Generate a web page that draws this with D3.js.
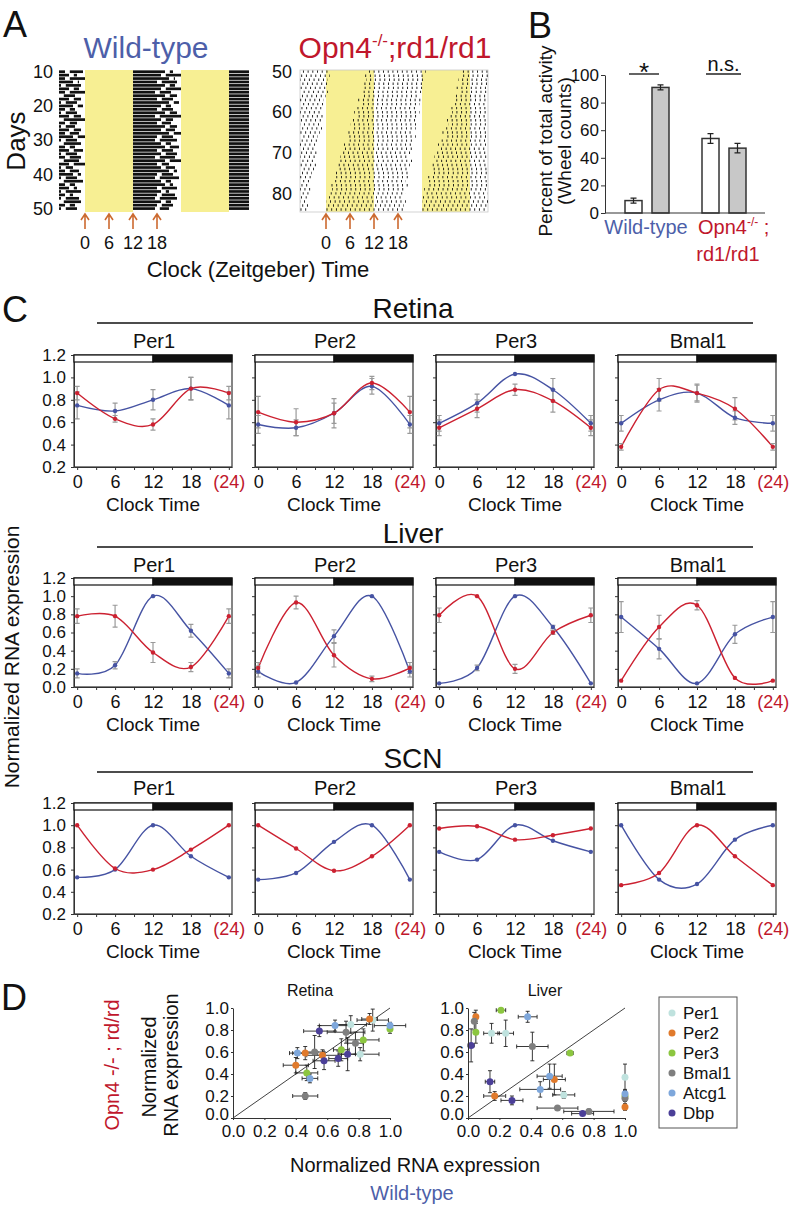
<!DOCTYPE html>
<html><head><meta charset="utf-8">
<script src="https://cdn.jsdelivr.net/npm/d3@7"></script>
<style>
html,body{margin:0;padding:0;background:#fff;}
svg{display:block;}
</style></head>
<body>
<svg id="fig" width="793" height="1209"></svg>
<script>
// ================= DATA =================
// Panel A – actograms (ZT hours)
const wtDays = d3.range(9, 52);
const wtActivityEnd = [19,20,19,21,18,20,19,17.5,20,18,21,19,18,20,17.5,19,18,20,19,21,18,17.5,19,20,18,19,17.5,20,18,19,21,18,17.5,19,20,18,19,18,17.5,19,18,17.5,18];
const wtLateBoutEnd = [23.5,22,24,22.5,23,22.5,24,21.5,23,22,23.5,21.5,22,23,24,22,21.5,23,22.5,24,22,23,21.5,23.5,22,23,22.5,24,21,22.5,23,22,23.5,21.5,22,23,21,22.5,23,21.5,22,21,22.5];
const koDays = d3.range(49, 86);
const koOnset = [10.5,10,9.5,10,9,9.5,8.5,9,8,8.5,7.5,7,7.5,6.5,6,6.5,5.5,5,5.5,4.5,4,4,3.5,3,3,2.5,2,2.5,1.5,1,1.5,0.5,0.5,0,0,0,0];
const koOffset = [25,25,24.5,25,24,24.5,24,23.5,24,23.5,23,23.5,23,22.5,23,22.5,22,22.5,22,21.5,22,21.5,21,21.5,21,20.5,21,20.5,20,20.5,20,20,19.5,20,19.5,20,19.5];
const arrowTimes = [0, 6, 12, 18];
const wtDayTicks = [10, 20, 30, 40, 50];
const koDayTicks = [50, 60, 70, 80];

// Panel B – percent of total activity
const genotypes = ["Wild-type", "Opn4"];
const phases = ["light", "dark"];
const lightPercent = [9, 54];
const darkPercent = [91, 47];
const lightPercentErr = [1.8, 3.5];
const darkPercentErr = [1.8, 3.5];
const significance = ["*", "n.s."];
const percentTicks = [0, 20, 40, 60, 80, 100];

// Panel C – normalized RNA expression at ZT 0,6,12,18,(24)
const clockTimes = [0, 6, 12, 18, 24];
const tissues = ["Retina", "Liver", "SCN"];
const genes = ["Per1", "Per2", "Per3", "Bmal1"];
const retinaWT = [[0.75,0.70,0.80,0.90,0.75],[0.58,0.55,0.68,0.92,0.58],[0.59,0.77,1.03,0.89,0.59],[0.59,0.80,0.86,0.64,0.59]];
const retinaKO = [[0.86,0.63,0.58,0.90,0.86],[0.69,0.60,0.68,0.95,0.69],[0.55,0.72,0.89,0.79,0.55],[0.38,0.89,0.86,0.72,0.38]];
const retinaWTerr = [[0.12,0.07,0.09,0.10,0.12],[0.08,0.07,0.09,0.07,0.08],[0.07,0.08,0.00,0.10,0.07],[0.07,0.10,0.08,0.06,0.07]];
const retinaKOerr = [[0.06,0.03,0.05,0.10,0.06],[0.14,0.12,0.13,0.06,0.14],[0.07,0.08,0.05,0.10,0.07],[0.03,0.10,0.07,0.10,0.03]];
const liverWT = [[0.15,0.24,1.00,0.62,0.15],[0.17,0.05,0.56,1.00,0.17],[0.04,0.21,1.00,0.66,0.04],[0.77,0.42,0.04,0.58,0.77]];
const liverKO = [[0.78,0.78,0.38,0.22,0.78],[0.21,0.93,0.35,0.09,0.21],[0.79,1.00,0.20,0.60,0.79],[0.07,0.66,0.90,0.10,0.07]];
const liverWTerr = [[0.05,0.04,0.00,0.07,0.05],[0.06,0.00,0.07,0.00,0.06],[0.00,0.03,0.00,0.02,0.00],[0.17,0.11,0.00,0.10,0.17]];
const liverKOerr = [[0.08,0.12,0.11,0.05,0.08],[0.06,0.07,0.13,0.03,0.06],[0.08,0.00,0.05,0.02,0.08],[0.00,0.13,0.05,0.00,0.00]];
const scnWT = [[0.53,0.60,1.00,0.72,0.53],[0.51,0.57,0.85,1.00,0.51],[0.76,0.69,1.00,0.86,0.76],[1.00,0.51,0.47,0.87,1.00]];
const scnKO = [[1.00,0.61,0.60,0.78,1.00],[1.00,0.79,0.59,0.72,1.00],[0.97,0.99,0.87,0.91,0.97],[0.46,0.57,1.00,0.72,0.46]];

// Panel D – wild-type (x) vs Opn4-/-;rd/rd (y)
const legendGenes = ["Per1", "Per2", "Per3", "Bmal1", "Atcg1", "Dbp"];
const unitTicks = [0, 0.2, 0.4, 0.6, 0.8, 1.0];
const retinaGene = [0,0,0,1,1,1,1,2,2,2,2,3,3,3,3,4,4,4,4,5,5,5,5];
const retinaWTx  = [0.75,0.89,0.81,0.87,0.46,0.57,0.40,1.00,0.83,0.69,0.47,0.46,0.52,0.72,0.78,1.00,0.65,0.41,0.49,0.55,0.58,0.67,0.73];
const retinaKOy  = [0.85,0.89,0.58,0.90,0.59,0.57,0.48,0.81,0.71,0.62,0.41,0.20,0.60,0.78,0.68,0.84,0.84,0.59,0.36,0.79,0.52,0.54,0.58];
const retinaXerr = [0.10,0.10,0.12,0.05,0.08,0.10,0.08,0.00,0.10,0.05,0.07,0.08,0.06,0.12,0.05,0.10,0.10,0.05,0.05,0.10,0.07,0.06,0.05];
const retinaYerr = [0.08,0.10,0.06,0.05,0.06,0.05,0.07,0.04,0.10,0.10,0.07,0.03,0.15,0.10,0.10,0.03,0.05,0.05,0.04,0.05,0.08,0.07,0.15];
const liverGene = [0,0,0,0,1,1,1,1,2,2,2,2,3,3,3,3,3,4,4,4,4,5,5,5,5];
const liverWTx  = [0.15,0.24,0.61,1.00,0.05,0.55,0.17,1.00,0.21,0.05,0.65,1.00,0.04,0.41,0.57,0.77,1.00,0.38,0.52,0.46,1.00,0.02,0.14,0.28,0.73];
const liverKOy  = [0.77,0.77,0.21,0.37,0.92,0.35,0.20,0.10,0.98,0.78,0.59,0.20,0.88,0.65,0.09,0.06,0.18,0.92,0.38,0.26,0.22,0.66,0.33,0.16,0.04];
const liverXerr = [0.05,0.05,0.07,0.00,0.01,0.07,0.07,0.00,0.03,0.01,0.02,0.00,0.01,0.10,0.13,0.16,0.00,0.06,0.08,0.13,0.00,0.02,0.03,0.07,0.07];
const liverYerr = [0.09,0.12,0.03,0.12,0.06,0.14,0.04,0.03,0.01,0.10,0.02,0.05,0.08,0.13,0.01,0.02,0.07,0.05,0.11,0.07,0.04,0.15,0.10,0.04,0.01];

// ================= STYLE =================
const F = '"Liberation Sans", Arial, Helvetica, sans-serif';
const BLUE = "#4d5fa9", RED = "#c0172c", LBLUE = "#4653a3", LRED = "#cc2131";
const ORANGE = "#cc6a30", YELLOW = "#f7ef93", ERRGREY = "#9a9a9a";
const geneColors = ["#bfe2de", "#e07a2c", "#8cc640", "#7f7f7f", "#7ea7db", "#4b3f98"];

const svg = d3.select("#fig");
function T(sel, x, y, s, o = {}) {
  const t = sel.append("text").attr("x", x).attr("y", y).text(s)
    .attr("font-family", F).attr("font-size", o.size || 18)
    .attr("text-anchor", o.anchor || "middle").attr("fill", o.color || "#111");
  if (o.rot) t.attr("transform", `rotate(${o.rot} ${x} ${y})`);
  return t;
}
function styleAxis(g, size, color) {
  g.selectAll("text").attr("font-family", F).attr("font-size", size).attr("fill", color || "#111");
  g.selectAll("line").attr("stroke", "#333");
  g.select(".domain").attr("stroke", "#333");
}

// ================= PANEL A =================
T(svg, 3, 37, "A", {size: 36, anchor: "start"});
T(svg, 146, 58, "Wild-type", {size: 30, color: BLUE});
{
  const t = svg.append("text").attr("x", 395).attr("y", 58).attr("text-anchor", "middle")
    .attr("font-family", F).attr("font-size", 30).attr("fill", RED);
  t.append("tspan").text("Opn4");
  t.append("tspan").attr("dy", -12).attr("font-size", 17).text("-/-");
  t.append("tspan").attr("dy", 12).text(";rd1/rd1");
}
T(svg, 25, 141, "Days", {size: 26, rot: -90});
T(svg, 258, 277, "Clock (Zeitgeber) Time", {size: 22});

// wild-type actogram
const wtX = d3.scaleLinear().domain([-6.5, 41]).range([59, 249]);
const wtY = d3.scaleLinear().domain([9.5, 51]).range([70, 212]);
const gA1 = svg.append("g");
gA1.selectAll("rect.lp").data([0, 24]).join("rect")
  .attr("x", d => wtX(d)).attr("width", d => wtX(d + 12) - wtX(d))
  .attr("y", 70).attr("height", 142).attr("fill", YELLOW);
const wtBouts = k => {
  const s = [[12, wtActivityEnd[k]]];
  if (wtLateBoutEnd[k] > wtActivityEnd[k] + 1.2) s.push([wtActivityEnd[k] + 1.2, wtLateBoutEnd[k]]);
  return s;
};
const wtSegs = [];
wtDays.forEach((d, j) => {
  if (d < 10 || d > 50) return;
  const add = (arr, sh) => arr.forEach(([a, b]) => {
    const aa = Math.max(a + sh, -6.5), bb = Math.min(b + sh, 41);
    if (bb > aa) wtSegs.push({d, a: aa, b: bb});
  });
  add(wtBouts(j), 0);
  add(wtBouts(j - 1), -24);
  add(wtBouts(j + 1), 24);
});
gA1.selectAll("rect.act").data(wtSegs).join("rect")
  .attr("x", s => wtX(s.a)).attr("width", s => wtX(s.b) - wtX(s.a))
  .attr("y", s => wtY(s.d) - 1.35).attr("height", 2.7).attr("fill", "#111");
const ax1 = gA1.append("g").attr("transform", "translate(59,0)")
  .call(d3.axisLeft(wtY).tickValues(wtDayTicks).tickSize(0).tickPadding(6));
ax1.select(".domain").remove();
styleAxis(ax1, 18);

// Opn4 actogram
const koX = d3.scaleLinear().domain([-6.5, 40.5]).range([300, 488]);
const koY = d3.scaleLinear().domain([49.6, 84.6]).range([70, 212]);
const gA2 = svg.append("g");
gA2.selectAll("rect.lp").data([0, 24]).join("rect")
  .attr("x", d => koX(d)).attr("width", d => koX(d + 12) - koX(d))
  .attr("y", 70).attr("height", 142).attr("fill", YELLOW);
gA2.append("rect").attr("x", 300).attr("y", 70).attr("width", 188).attr("height", 142)
  .attr("fill", "none").attr("stroke", "#c8c8c8").attr("stroke-width", 0.8);
const koSegs = [];
koDays.forEach((d, j) => {
  if (d < 50 || d > 84) return;
  const add = (k, sh) => {
    const aa = Math.max(koOnset[k] + sh, -6.5), bb = Math.min(koOffset[k] + sh, 40.5);
    if (bb > aa) koSegs.push({d, i: j, a: aa, b: bb});
  };
  add(j, 0); add(j - 1, -24); add(j + 1, 24);
});
gA2.selectAll("line.act").data(koSegs).join("line")
  .attr("x1", s => koX(s.a)).attr("x2", s => koX(s.b))
  .attr("y1", s => koY(s.d)).attr("y2", s => koY(s.d))
  .attr("stroke", "#111").attr("stroke-width", 2.4)
  .attr("stroke-dasharray", "0.9 3.8")
  .attr("stroke-dashoffset", s => (s.i * 1.73) % 4.7);
const ax2 = gA2.append("g").attr("transform", "translate(300,0)")
  .call(d3.axisLeft(koY).tickValues(koDayTicks).tickSize(0).tickPadding(8));
ax2.select(".domain").remove();
styleAxis(ax2, 18);

// arrows
[wtX, koX].forEach(sx => {
  const g = svg.append("g");
  arrowTimes.forEach(z => {
    const x = sx(z);
    g.append("path").attr("d", `M${x},229 L${x},214 M${x - 4},220 L${x},214 L${x + 4},220`)
      .attr("fill", "none").attr("stroke", ORANGE).attr("stroke-width", 1.6);
    T(g, x, 249, String(z), {size: 18});
  });
});

// ================= PANEL B =================
T(svg, 528, 38, "B", {size: 36, anchor: "start"});
const bY = d3.scaleLinear().domain([0, 100]).range([213, 75]);
const bX = d3.scaleBand().domain(genotypes).range([609, 763]);
const bIn = d3.scaleBand().domain(phases).range([16, 60]).paddingInner(0.37);
const gB = svg.append("g");
const barsB = [];
genotypes.forEach((g, i) => {
  barsB.push({g, p: "light", v: lightPercent[i], e: lightPercentErr[i]});
  barsB.push({g, p: "dark", v: darkPercent[i], e: darkPercentErr[i]});
});
gB.selectAll("rect.bar").data(barsB).join("rect")
  .attr("x", d => bX(d.g) + bIn(d.p)).attr("width", bIn.bandwidth())
  .attr("y", d => bY(d.v)).attr("height", d => bY(0) - bY(d.v))
  .attr("fill", d => d.p === "light" ? "#fff" : "#c8c8c8")
  .attr("stroke", "#333").attr("stroke-width", 1.5);
barsB.forEach(d => {
  const cx = bX(d.g) + bIn(d.p) + bIn.bandwidth() / 2;
  gB.append("path").attr("d",
    `M${cx},${bY(d.v + d.e)}L${cx},${bY(d.v - d.e)}M${cx - 3},${bY(d.v + d.e)}L${cx + 3},${bY(d.v + d.e)}M${cx - 3},${bY(d.v - d.e)}L${cx + 3},${bY(d.v - d.e)}`)
    .attr("stroke", "#222").attr("stroke-width", 1.2).attr("fill", "none");
});
const axB = gB.append("g").attr("transform", "translate(605,0)")
  .call(d3.axisLeft(bY).tickValues(percentTicks).tickSize(4).tickPadding(2).tickSizeOuter(0));
styleAxis(axB, 17);
gB.append("line").attr("x1", 605).attr("x2", 765).attr("y1", 213).attr("y2", 213)
  .attr("stroke", "#333").attr("stroke-width", 1.2);
genotypes.forEach((g, i) => {
  const x1 = bX(g) + bIn("light") + 4, x2 = bX(g) + bIn("dark") + bIn.bandwidth() - 10 + (i ? 5 : 0);
  gB.append("line").attr("x1", x1).attr("x2", x2).attr("y1", 74).attr("y2", 74)
    .attr("stroke", "#222").attr("stroke-width", 1.4);
  if (i === 0) T(gB, (x1 + x2) / 2, 81, significance[i], {size: 26});
  else T(gB, (x1 + x2) / 2, 71, significance[i], {size: 20});
});
T(svg, 552, 141, "Percent of total activity", {size: 19, rot: -90});
T(svg, 571, 141, "(Wheel counts)", {size: 19, rot: -90});
T(svg, 646, 234, "Wild-type", {size: 20, color: BLUE});
{
  const t = svg.append("text").attr("x", 698).attr("y", 234).attr("font-family", F)
    .attr("font-size", 20).attr("fill", RED);
  t.append("tspan").text("Opn4");
  t.append("tspan").attr("dy", -8).attr("font-size", 12).text("-/-");
  t.append("tspan").attr("dy", 8).text(" ;");
}
T(svg, 728, 261, "rd1/rd1", {size: 20, color: RED});

// ================= PANEL C =================
T(svg, 2, 322, "C", {size: 36, anchor: "start"});
T(svg, 19, 657, "Normalized RNA expression", {size: 21, rot: -90});
const colLeft = [74, 255, 436, 618], colW = 158;
const rowTop = [355, 578, 803], rowBottom = [467, 687, 914], rowMin = [0.2, 0.0, 0.2];
const secTitleY = [318, 543, 768], secLineY = [323, 547, 772], geneTitleY = [348, 572, 795];
const dataWT = [retinaWT, liverWT, scnWT], dataKO = [retinaKO, liverKO, scnKO];
const errWT = [retinaWTerr, liverWTerr, null], errKO = [retinaKOerr, liverKOerr, null];

tissues.forEach((tn, r) => {
  T(svg, 413, secTitleY[r], tn, {size: 28});
  svg.append("line").attr("x1", 97).attr("x2", 753).attr("y1", secLineY[r]).attr("y2", secLineY[r])
    .attr("stroke", "#111").attr("stroke-width", 1.3);
  genes.forEach((gn, c) => {
    const L = colLeft[c], R = L + colW;
    const x = d3.scaleLinear().domain([-0.5, 24.5]).range([L, R]);
    const y = d3.scaleLinear().domain([rowMin[r], 1.2]).range([rowBottom[r], rowTop[r]]);
    const g = svg.append("g");
    T(g, L + 80, geneTitleY[r], gn, {size: 20});
    const yt = d3.range(Math.round(rowMin[r] * 10), 13, 2).map(v => v / 10);
    const ay = g.append("g").attr("transform", `translate(${L},0)`)
      .call(d3.axisLeft(y).tickValues(yt).tickSize(3).tickPadding(5).tickSizeOuter(0)
        .tickFormat(c === 0 ? d3.format(".1f") : () => ""));
    styleAxis(ay, 17);
    const axm = g.append("g").attr("transform", `translate(0,${rowBottom[r]})`)
      .call(d3.axisBottom(x).tickValues(d3.range(0, 25, 3)).tickSize(3).tickSizeOuter(0).tickFormat(() => ""));
    styleAxis(axm, 17);
    const axl = g.append("g").attr("transform", `translate(0,${rowBottom[r]})`)
      .call(d3.axisBottom(x).tickValues(clockTimes).tickSize(0).tickPadding(8)
        .tickFormat(v => v === 24 ? "(24)" : String(v)));
    axl.select(".domain").remove();
    styleAxis(axl, 18);
    axl.selectAll(".tick text").attr("fill", v => v === 24 ? RED : "#111");
    T(g, (L + R) / 2, rowBottom[r] + 44, "Clock Time", {size: 19});
    g.append("rect").attr("x", L).attr("y", rowTop[r]).attr("width", colW).attr("height", rowBottom[r] - rowTop[r])
      .attr("fill", "none").attr("stroke", "#333").attr("stroke-width", 1.2);
    g.append("rect").attr("x", L).attr("y", rowTop[r]).attr("width", x(12) - L).attr("height", 7)
      .attr("fill", "#fff").attr("stroke", "#111").attr("stroke-width", 1.2);
    g.append("rect").attr("x", x(12)).attr("y", rowTop[r]).attr("width", R - x(12)).attr("height", 7)
      .attr("fill", "#111").attr("stroke", "#111").attr("stroke-width", 1.2);
    const line = d3.line().x((v, i) => x(clockTimes[i])).y(v => y(v)).curve(d3.curveCardinal.tension(0));
    [[dataWT[r][c], LBLUE], [dataKO[r][c], LRED]].forEach(([vals, col]) => {
      g.append("path").attr("d", line(vals)).attr("fill", "none").attr("stroke", col).attr("stroke-width", 1.4);
    });
    [[dataWT[r][c], errWT[r]], [dataKO[r][c], errKO[r]]].forEach(([vals, err]) => {
      if (!err) return;
      vals.forEach((v, i) => {
        const e = err[c][i]; if (!e) return;
        const cx = x(clockTimes[i]);
        g.append("path").attr("d",
          `M${cx},${y(v + e)}L${cx},${y(v - e)}M${cx - 2.5},${y(v + e)}L${cx + 2.5},${y(v + e)}M${cx - 2.5},${y(v - e)}L${cx + 2.5},${y(v - e)}`)
          .attr("stroke", ERRGREY).attr("stroke-width", 1.2).attr("fill", "none");
      });
    });
    [[dataWT[r][c], LBLUE], [dataKO[r][c], LRED]].forEach(([vals, col]) => {
      g.selectAll(null).data(vals).join("circle")
        .attr("cx", (v, i) => x(clockTimes[i])).attr("cy", v => y(v)).attr("r", 2.2).attr("fill", col);
    });
  });
});

// ================= PANEL D =================
T(svg, 1, 1010, "D", {size: 36, anchor: "start"});
T(svg, 119, 1065, "Opn4 -/- ; rd/rd", {size: 20, color: RED, rot: -90});
T(svg, 156, 1067, "Normalized", {size: 20, rot: -90});
T(svg, 178, 1065, "RNA expression", {size: 20, rot: -90});
T(svg, 415, 1172, "Normalized RNA expression", {size: 20});
T(svg, 412, 1200, "Wild-type", {size: 20, color: BLUE});

function scatter(x0, title, gene, xs, ys, xe, ye) {
  const x = d3.scaleLinear().domain([0, 1]).range([x0, x0 + 157]);
  const y = d3.scaleLinear().domain([0, 1]).range([1118, 1008]);
  const g = svg.append("g");
  T(g, x0 + 77, 996, title, {size: 16});
  g.append("line").attr("x1", x(0)).attr("y1", y(0)).attr("x2", x(1)).attr("y2", y(1))
    .attr("stroke", "#111").attr("stroke-width", 0.8);
  const pts = xs.map((v, i) => ({x: v, y: ys[i], xe: xe[i], ye: ye[i], c: gene[i]}));
  pts.forEach(p => {
    const px = x(p.x), py = y(p.y);
    let d = "";
    if (p.xe) d += `M${x(p.x - p.xe)},${py}L${x(p.x + p.xe)},${py}M${x(p.x - p.xe)},${py - 2}L${x(p.x - p.xe)},${py + 2}M${x(p.x + p.xe)},${py - 2}L${x(p.x + p.xe)},${py + 2}`;
    if (p.ye) d += `M${px},${y(p.y - p.ye)}L${px},${y(p.y + p.ye)}M${px - 2},${y(p.y - p.ye)}L${px + 2},${y(p.y - p.ye)}M${px - 2},${y(p.y + p.ye)}L${px + 2},${y(p.y + p.ye)}`;
    if (d) g.append("path").attr("d", d).attr("stroke", "#222").attr("stroke-width", 0.9).attr("fill", "none");
  });
  g.selectAll("circle").data(pts).join("circle")
    .attr("cx", p => x(p.x)).attr("cy", p => y(p.y)).attr("r", 3.5)
    .attr("fill", p => geneColors[p.c]);
  const ay = g.append("g").attr("transform", `translate(${x0},0)`)
    .call(d3.axisLeft(y).tickValues(unitTicks).tickSize(2).tickPadding(2).tickSizeOuter(0).tickFormat(d3.format(".1f")));
  styleAxis(ay, 17);
  ay.selectAll(".tick text").attr("dy", v => v === 0 ? "0.1em" : "0.32em");
  const ax = g.append("g").attr("transform", `translate(0,1118)`)
    .call(d3.axisBottom(x).tickValues(unitTicks).tickSize(2).tickPadding(5).tickSizeOuter(0).tickFormat(d3.format(".1f")));
  styleAxis(ax, 17);
}
scatter(233, "Retina", retinaGene, retinaWTx, retinaKOy, retinaXerr, retinaYerr);
scatter(468, "Liver", liverGene, liverWTx, liverKOy, liverXerr, liverYerr);

// legend
const gL = svg.append("g");
gL.append("rect").attr("x", 659).attr("y", 997).attr("width", 78).attr("height", 131)
  .attr("fill", "#fff").attr("stroke", "#555").attr("stroke-width", 1);
legendGenes.forEach((gname, i) => {
  const yy = 1013 + i * 20;
  gL.append("circle").attr("cx", 672).attr("cy", yy).attr("r", 3.5).attr("fill", geneColors[i]);
  T(gL, 683, yy + 6, gname, {size: 17, anchor: "start"});
});
</script>
</body></html>
